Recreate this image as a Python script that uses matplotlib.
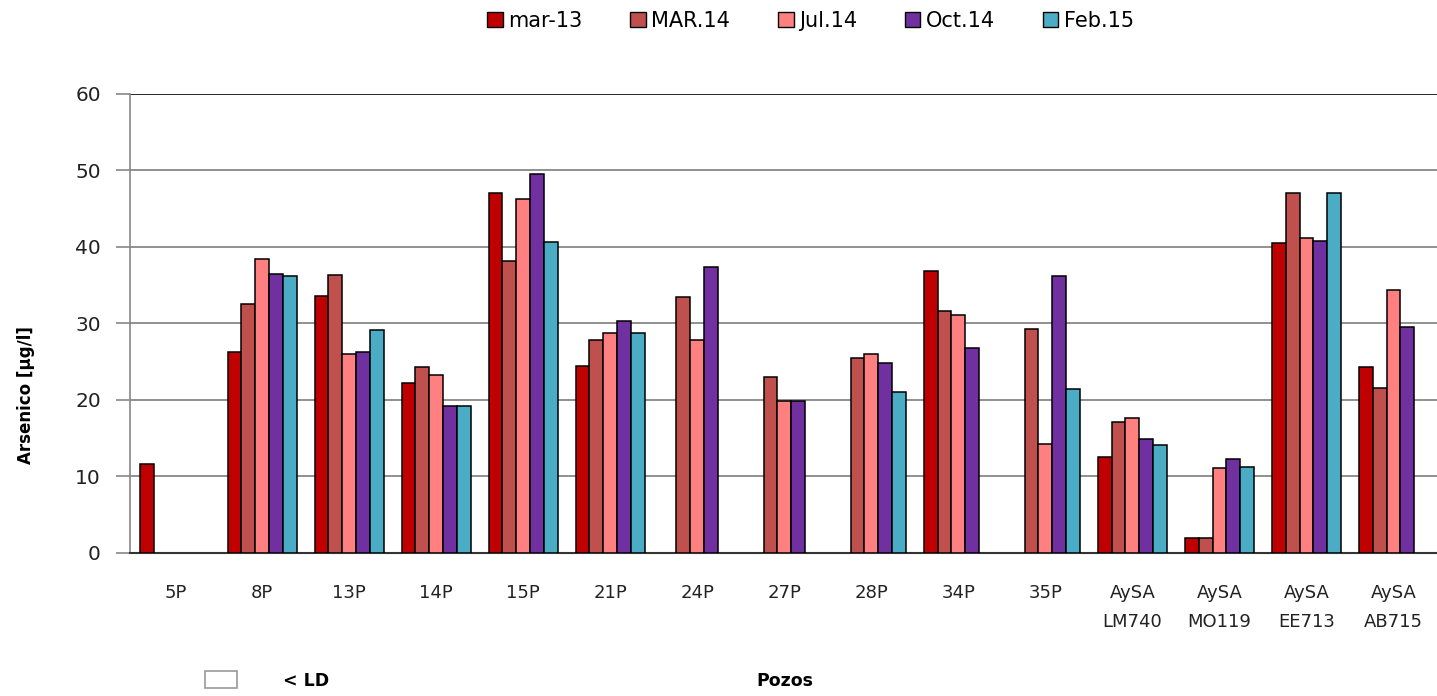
import matplotlib
matplotlib.use("Agg")
import matplotlib.pyplot as plt
import numpy as np
from matplotlib.patches import Rectangle

categories = ["5P", "8P", "13P", "14P", "15P", "21P", "24P", "27P", "28P", "34P", "35P",
              "AySA\nLM740", "AySA\nMO119", "AySA\nEE713", "AySA\nAB715"]
series_names = ["mar-13", "MAR.14", "Jul.14", "Oct.14", "Feb.15"]
nan = np.nan
mar13 = [11.6, 26.3, 33.6, 22.2, 47.1, 24.5, nan, nan, nan, 36.9, nan, 12.6, 1.9, 40.5, 24.3]
mar14 = [nan, 32.6, 36.4, 24.3, 38.2, 27.8, 33.4, 23.0, 25.5, 31.6, 29.3, 17.1, 1.9, 47.1, 21.5]
jul14 = [nan, 38.4, 26.0, 23.2, 46.3, 28.8, 27.8, 19.9, 26.0, 31.1, 14.3, 17.6, 11.1, 41.2, 34.4]
oct14 = [nan, 36.5, 26.3, 19.2, 49.6, 30.3, 37.4, 19.9, 24.8, 26.8, 36.2, 14.9, 12.3, 40.8, 29.5]
feb15 = [nan, 36.2, 29.1, 19.2, 40.7, 28.8, nan, nan, 21.0, nan, 21.4, 14.1, 11.3, 47.1, nan]
series = [mar13, mar14, jul14, oct14, feb15]
colors = ["#C00000", "#C0504D", "#FF8080", "#7030A0", "#4BACC6"]
yticks = [0, 10, 20, 30, 40, 50, 60]

fig = plt.figure(figsize=(14.37, 6.96), dpi=100)
ax = fig.add_axes([0.0905, 0.2055, 0.9095, 0.6595])

x = np.arange(len(categories))
w = 0.16
for i, (vals, c, name) in enumerate(zip(series, colors, series_names)):
    ax.bar(x + (i - 2) * w, vals, width=w, color=c, edgecolor="black", linewidth=1.1,
           label=name, zorder=3)

ax.set_xlim(-0.52, 14.5)
ax.set_ylim(0, 60)
ax.set_yticks(yticks)
ax.set_yticklabels([str(t) for t in yticks], fontsize=14.5, color="#222222")
ax.yaxis.grid(True, color="#888888", linewidth=1.3, zorder=0)
ax.set_xticks(x)
ax.set_xticklabels(categories, fontsize=13, color="#222222", linespacing=1.85)
ax.tick_params(axis="x", length=0, pad=22)
ax.tick_params(axis="y", length=10, width=1.2, color="#888888", pad=11)
for s in ["top", "right"]:
    ax.spines[s].set_visible(False)
ax.spines["left"].set_color("#888888")
ax.spines["left"].set_linewidth(1.2)
ax.spines["bottom"].set_color("#333333")
ax.spines["bottom"].set_linewidth(1.5)
ax.axhline(60, color="#222222", linewidth=1.3, zorder=2)

ax.set_ylabel("Arsenico [µg/l]", fontsize=12, fontweight="bold")
ax.yaxis.set_label_coords(-0.073, 0.344)
fig.text(0.546, 0.022, "Pozos", fontsize=12.5, fontweight="bold", ha="center", va="center")
fig.text(0.197, 0.022, "< LD", fontsize=12.5, fontweight="bold", ha="left", va="center")
fig.patches.append(Rectangle((0.143, 0.012), 0.022, 0.024, transform=fig.transFigure,
                             facecolor="white", edgecolor="#999999", linewidth=1.2))

leg = fig.legend(loc="center", bbox_to_anchor=(0.564, 0.970), ncol=5, frameon=False,
                 fontsize=15, handlelength=0.75, handleheight=0.75, handletextpad=0.25,
                 columnspacing=2.3)
for h in leg.legend_handles:
    h.set_edgecolor("black")
    h.set_linewidth(1.0)

fig.savefig("out.png", dpi=100)
